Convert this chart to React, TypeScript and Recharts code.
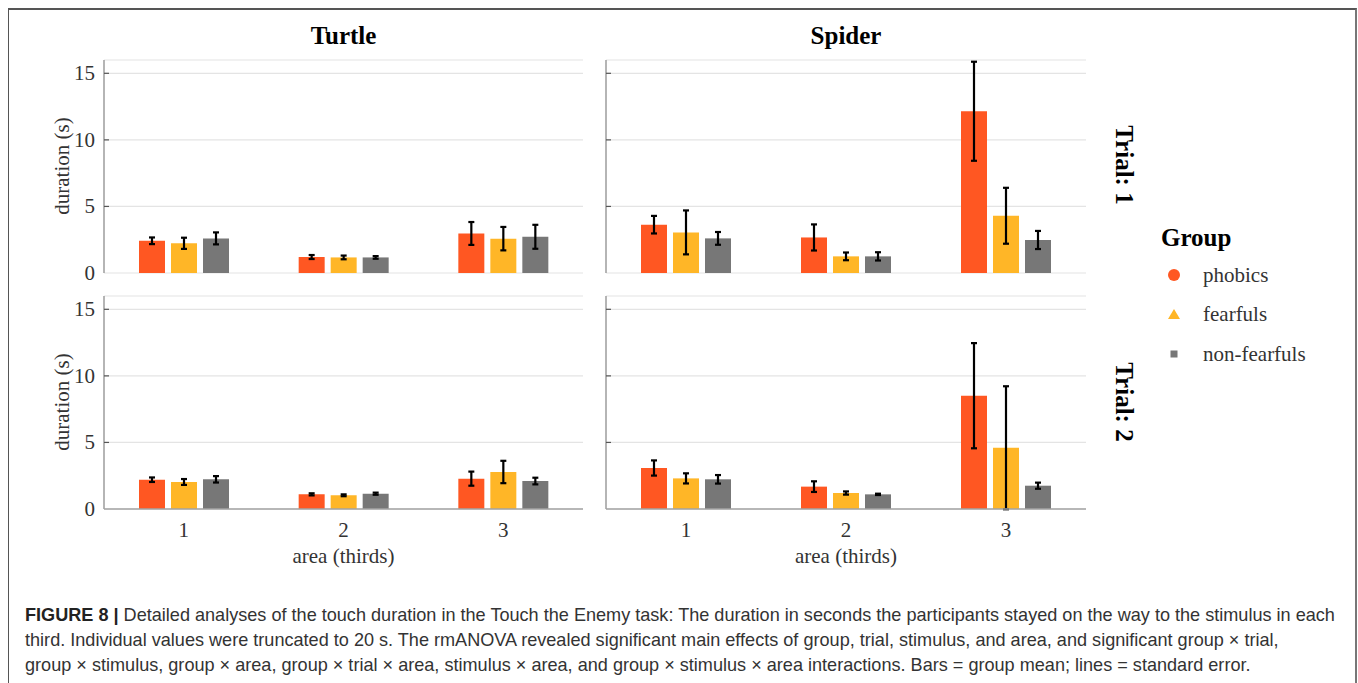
import React from "react";
import { Bar, BarChart, CartesianGrid, ErrorBar, XAxis, YAxis } from "recharts";

const areas = ["1", "2", "3"];
const groups = ["phobics", "fearfuls", "non-fearfuls"];
const yTicks = [0, 5, 10, 15];

// mean duration (s) per area; inner order = phobics, fearfuls, non-fearfuls
const turtleTrial1Mean = [[2.42, 2.23, 2.6], [1.2, 1.17, 1.17], [2.97, 2.58, 2.72]];
const turtleTrial1Se = [[0.25, 0.42, 0.45], [0.15, 0.14, 0.1], [0.86, 0.88, 0.9]];
const spiderTrial1Mean = [[3.63, 3.05, 2.6], [2.67, 1.25, 1.25], [12.15, 4.3, 2.48]];
const spiderTrial1Se = [[0.66, 1.65, 0.48], [0.98, 0.29, 0.31], [3.72, 2.1, 0.68]];
const turtleTrial2Mean = [[2.2, 2.03, 2.23], [1.1, 1.03, 1.15], [2.28, 2.78, 2.1]];
const turtleTrial2Se = [[0.17, 0.22, 0.24], [0.08, 0.07, 0.08], [0.53, 0.84, 0.25]];
const spiderTrial2Mean = [[3.08, 2.3, 2.23], [1.68, 1.2, 1.1], [8.51, 4.6, 1.75]];
const spiderTrial2Se = [[0.57, 0.38, 0.32], [0.4, 0.12, 0.05], [3.95, 4.62, 0.23]];

const colors = ["#FF5722", "#FFB627", "#777777"];
const SERIF = "'Liberation Serif', 'Times New Roman', serif";
const SANS = "'Liberation Sans', Arial, sans-serif";

function toRows(mean: number[][], se: number[][]) {
  return areas.map((area, i) => {
    const row: any = { area };
    groups.forEach((_, j) => {
      row[`g${j}`] = mean[i][j];
      row[`g${j}se`] = se[i][j];
    });
    return row;
  });
}

function YTick(props: any) {
  const { x, y, payload, showLabel } = props;
  return (
    <g>
      {payload.value > 0 && (
        <line x1={x} x2={x + 5} y1={y} y2={y} stroke="#555" strokeWidth={1.2} />
      )}
      {showLabel && (
        <text
          x={x - 9}
          y={y}
          textAnchor="end"
          dominantBaseline="central"
          fontFamily={SERIF}
          fontSize={21}
          fill="#333"
        >
          {payload.value}
        </text>
      )}
    </g>
  );
}

function XTick(props: any) {
  const { x, y, payload } = props;
  return (
    <text
      x={x}
      y={y + 21}
      textAnchor="middle"
      dominantBaseline="central"
      fontFamily={SERIF}
      fontSize={21}
      fill="#333"
    >
      {payload.value}
    </text>
  );
}

type PanelProps = {
  left: number;
  top: number;
  width: number;
  mean: number[][];
  se: number[][];
  showY: boolean;
  showX: boolean;
};

function Panel({ left, top, width, mean, se, showY, showX }: PanelProps) {
  const yWidth = showY ? 50 : 10;
  const marginLeft = 14;
  const xHeight = showX ? 40 : 0;
  const plotH = 213;
  const height = 10 + plotH + xHeight + (showX ? 0 : 17);
  return (
    <div style={{ position: "absolute", left, top }}>
      <BarChart
        width={width}
        height={height}
        data={toRows(mean, se)}
        margin={{ top: 10, right: 17, left: marginLeft, bottom: showX ? 0 : 17 }}
        barSize={26}
        barGap={6}
      >
        <CartesianGrid vertical={false} stroke="#e4e4e4" strokeWidth={1.2} />
        <XAxis
          dataKey="area"
          height={xHeight}
          axisLine={{ stroke: "#a3a3a3", strokeWidth: 1.6 }}
          tickLine={false}
          tick={showX ? <XTick /> : false}
          tickSize={0}
          tickMargin={0}
        />
        <YAxis
          width={yWidth}
          domain={[0, 16]}
          ticks={yTicks}
          allowDataOverflow
          axisLine={{ stroke: "#a3a3a3", strokeWidth: 1.6 }}
          tickLine={false}
          tickSize={0}
          tickMargin={0}
          tick={<YTick showLabel={showY} />}
        />
        {groups.map((g, j) => (
          <Bar key={g} dataKey={`g${j}`} name={g} fill={colors[j]} isAnimationActive={false}>
            <ErrorBar
              dataKey={`g${j}se`}
              direction="y"
              width={3}
              stroke="#000"
              strokeWidth={2.2}
              isAnimationActive={false}
            />
          </Bar>
        ))}
      </BarChart>
    </div>
  );
}

function Centered({
  x,
  y,
  children,
  style,
  rotate = 0,
}: {
  x: number;
  y: number;
  children: React.ReactNode;
  style?: React.CSSProperties;
  rotate?: number;
}) {
  return (
    <div
      style={{
        position: "absolute",
        left: x,
        top: y,
        transform: `translate(-50%, -50%) rotate(${rotate}deg)`,
        whiteSpace: "nowrap",
        lineHeight: 1,
        ...style,
      }}
    >
      {children}
    </div>
  );
}

const stripStyle: React.CSSProperties = {
  fontFamily: SERIF,
  fontWeight: "bold",
  fontSize: 25,
  color: "#000",
};
const axisTextStyle: React.CSSProperties = { fontFamily: SERIF, fontSize: 21, color: "#333" };

function LegendMarker({ i }: { i: number }) {
  return (
    <svg width={16} height={16} style={{ display: "block" }}>
      {i === 0 && <circle cx={8} cy={8} r={6} fill={colors[0]} />}
      {i === 1 && <polygon points="2,13 14,13 8,3" fill={colors[1]} />}
      {i === 2 && <rect x={4.5} y={4.5} width={7} height={7} fill={colors[2]} />}
    </svg>
  );
}

export default function App() {
  const legendY = [275, 314, 354];
  return (
    <div style={{ position: "relative", width: 1358, height: 683, background: "#fff" }}>
      <style>{"body{margin:0;overflow:hidden}"}</style>
      <div
        style={{
          position: "absolute",
          left: 8,
          top: 8,
          width: 1346,
          height: 700,
          borderTop: "2px solid #555",
          borderLeft: "1.5px solid #555",
          borderRight: "2px solid #777",
        }}
      />

      <Panel left={40} top={50} width={560} mean={turtleTrial1Mean} se={turtleTrial1Se} showY showX={false} />
      <Panel left={582} top={50} width={521} mean={spiderTrial1Mean} se={spiderTrial1Se} showY={false} showX={false} />
      <Panel left={40} top={286} width={560} mean={turtleTrial2Mean} se={turtleTrial2Se} showY showX />
      <Panel left={582} top={286} width={521} mean={spiderTrial2Mean} se={spiderTrial2Se} showY={false} showX />

      <Centered x={343.5} y={35} style={stripStyle}>Turtle</Centered>
      <Centered x={846} y={35} style={stripStyle}>Spider</Centered>
      <Centered x={1124} y={165} rotate={90} style={stripStyle}>Trial: 1</Centered>
      <Centered x={1124} y={402} rotate={90} style={stripStyle}>Trial: 2</Centered>

      <Centered x={62} y={166} rotate={-90} style={axisTextStyle}>duration (s)</Centered>
      <Centered x={62} y={402} rotate={-90} style={axisTextStyle}>duration (s)</Centered>
      <Centered x={343.5} y={556} style={axisTextStyle}>area (thirds)</Centered>
      <Centered x={846} y={556} style={axisTextStyle}>area (thirds)</Centered>

      <div style={{ position: "absolute", left: 1161, top: 237, transform: "translateY(-50%)", lineHeight: 1, ...stripStyle }}>
        Group
      </div>
      {groups.map((g, i) => (
        <React.Fragment key={g}>
          <div style={{ position: "absolute", left: 1166, top: legendY[i] - 8 }}>
            <LegendMarker i={i} />
          </div>
          <div
            style={{
              position: "absolute",
              left: 1203,
              top: legendY[i],
              transform: "translateY(-50%)",
              lineHeight: 1,
              whiteSpace: "nowrap",
              ...axisTextStyle,
            }}
          >
            {g}
          </div>
        </React.Fragment>
      ))}

      <div
        style={{
          position: "absolute",
          left: 25,
          top: 603,
          fontFamily: SANS,
          fontSize: 18.1,
          lineHeight: "25px",
          color: "#333",
          whiteSpace: "nowrap",
        }}
      >
        <b style={{ color: "#222" }}>FIGURE 8 |</b> Detailed analyses of the touch duration in the Touch the Enemy
        task: The duration in seconds the participants stayed on the way to the stimulus in each
        <br />
        third. Individual values were truncated to 20 s. The rmANOVA revealed significant main effects of group, trial,
        stimulus, and area, and significant group × trial,
        <br />
        group × stimulus, group × area, group × trial × area, stimulus × area, and group × stimulus × area
        interactions. Bars = group mean; lines = standard error.
      </div>
    </div>
  );
}
